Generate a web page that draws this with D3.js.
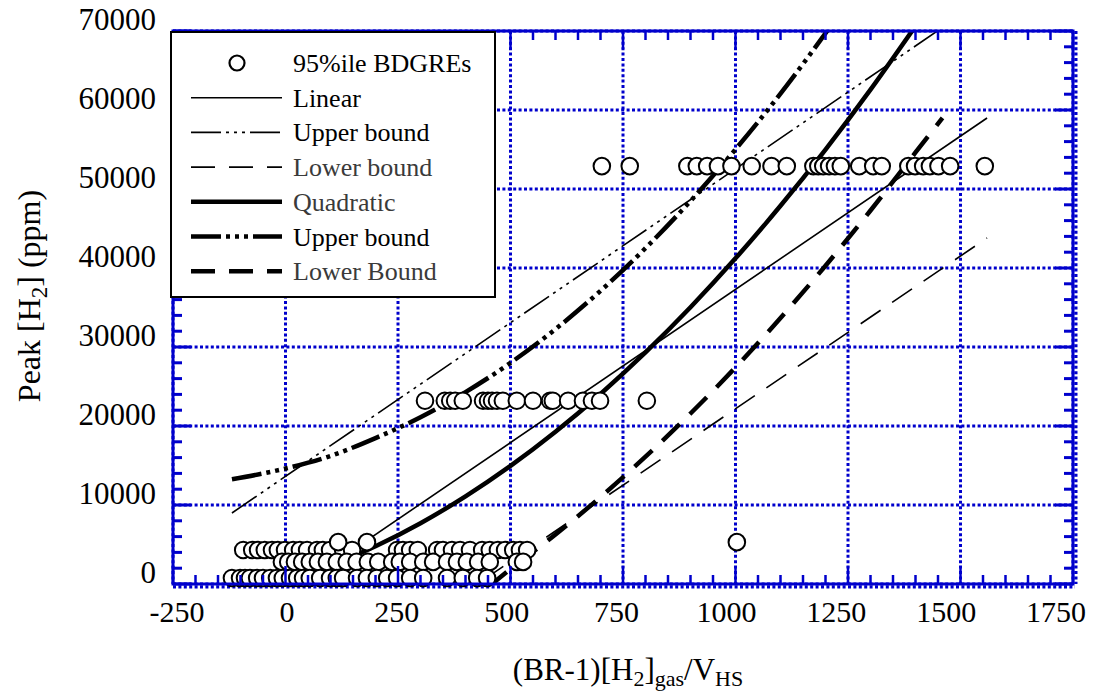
<!DOCTYPE html>
<html><head><meta charset="utf-8">
<script src="https://cdn.jsdelivr.net/npm/d3@7"></script>
<style>
body{margin:0;background:#fff}
svg text{font-family:"Liberation Serif","Times New Roman",serif;fill:#000}
</style></head><body>
<svg id="chart" width="1115" height="694"></svg>
<script>
// Axis ticks
const xTicks = [-250, 0, 250, 500, 750, 1000, 1250, 1500, 1750];
const yTicks = [0, 10000, 20000, 30000, 40000, 50000, 60000, 70000];

// 95%ile BDGREs, one array of x values per peak level
const rowLevels = [52900, 23200, 4300, 2800, 760, 5300];
const row52900 = [703, 765, 893, 914, 937, 961, 991, 1036, 1080, 1114, 1173, 1184, 1195, 1208, 1221, 1234, 1275, 1306, 1325, 1384, 1399, 1417, 1432, 1451, 1477, 1554];
const row23200 = [310, 354, 366, 377, 394, 439, 450, 459, 470, 483, 514, 550, 588, 594, 628, 661, 681, 699, 803];
const row4300 = [-94, -74, -61, -46, -30, -17, -1, 17, 32, 48, 70, 83, 99, 128, 148, 248, 261, 277, 294, 337, 350, 370, 388, 410, 437, 454, 472, 488, 506, 521, 537];
const row2800 = [-8, 6, 21, 37, 54, 72, 92, 114, 136, 158, 183, 206, 237, 254, 277, 306, 328, 359, 381, 403, 428, 454, 514, 528];
const row760 = [-119, -101, -90, -79, -63, -50, -34, -19, -6, 10, 26, 39, 54, 77, 99, 114, 128, 159, 181, 203, 226, 248, 277, 306, 359, 394, 426, 448];
const row5300 = [117, 181, 1003];

// Fitted curves as [x, peak] pairs
const linearFit = [[-119, -6117], [1559, 58989]];
const linearUpper = [[-119, 8990], [1559, 74300]];
const linearLower = [[-119, -21100], [1559, 43800]];
const quadFit = [[-119, -1444], [0, 320], [100, 2313], [200, 4772], [300, 7697], [400, 11088], [500, 14945], [600, 19268], [700, 24057], [800, 29312], [900, 35033], [1000, 41220], [1100, 47873], [1200, 54992], [1300, 62577], [1400, 70628]];
const quadUpper = [[-119, 13256], [0, 14620], [100, 16213], [200, 18472], [300, 21097], [400, 24288], [500, 27995], [600, 32268], [700, 37107], [800, 42512], [900, 48483], [1000, 55020], [1100, 62073], [1210, 70500]];
const quadLower = [[450, -400], [500, 1895], [600, 6268], [700, 11007], [800, 16112], [900, 21583], [1000, 27420], [1100, 33673], [1200, 40292], [1300, 47277], [1400, 54628], [1460, 59000]];

const legendLabels = ["95%ile BDGREs", "Linear", "Upper bound", "Lower bound", "Quadratic", "Upper bound", "Lower Bound"];

const blue = "#0000cc";
const svg = d3.select("#chart");

const x = d3.scaleLinear().domain([-250, 1750]).range([173, 1073]);
const y = d3.scaleLinear().domain([0, 70000]).range([584, 31]);
// tick labels sit on a slightly narrower span than the grid
const xLab = d3.scaleLinear().domain([-250, 1750]).range([177, 1056]);

const [x0, x1] = x.range();
const [y0, y1] = y.range();

svg.append("defs").append("clipPath").attr("id", "plotClip")
  .append("rect").attr("x", x0).attr("y", y1).attr("width", x1 - x0).attr("height", y0 - y1);

// dotted grid
const grid = svg.append("g").attr("stroke", blue).attr("stroke-width", 3).attr("stroke-dasharray", "3,2.4");
grid.selectAll(".gx").data(xTicks).join("line")
  .attr("x1", d => x(d)).attr("x2", d => x(d)).attr("y1", y1).attr("y2", y0);
grid.selectAll(".gy").data(yTicks).join("line")
  .attr("x1", x0).attr("x2", x1).attr("y1", d => y(d)).attr("y2", d => y(d));
// dotted edges just outside the frame
grid.append("line").attr("x1", x0).attr("x2", x1 + 2).attr("y1", y0 + 3).attr("y2", y0 + 3);
grid.append("line").attr("x1", x1 + 3).attr("x2", x1 + 3).attr("y1", y1).attr("y2", y0);

// curves
const line = d3.line().x(d => x(d[0])).y(d => y(d[1])).curve(d3.curveMonotoneX);
const curves = svg.append("g").attr("clip-path", "url(#plotClip)").attr("fill", "none").attr("stroke", "#000");
const styles = [
  {data: linearFit, w: 1.6, dash: null},
  {data: linearUpper, w: 1.6, dash: "30,5,3,5,3,5,3,5"},
  {data: linearLower, w: 1.6, dash: "24,14"},
  {data: quadFit, w: 4.5, dash: null},
  {data: quadUpper, w: 4.5, dash: "30,5,4,5,4,5,4,5"},
  {data: quadLower, w: 4.5, dash: "24,14"}
];
styles.forEach(s => {
  curves.append("path").attr("d", line(s.data)).attr("stroke-width", s.w)
    .attr("stroke-dasharray", s.dash).attr("stroke-linecap", "butt");
});

// data points
const rows = [row52900, row23200, row4300, row2800, row760, row5300];
const pts = svg.append("g");
rows.forEach((r, i) => {
  pts.selectAll(null).data(r).join("circle")
    .attr("cx", d => x(d)).attr("cy", y(rowLevels[i])).attr("r", 8.3)
    .attr("fill", "#fff").attr("stroke", "#000").attr("stroke-width", 2);
});

// frame and ticks
const frame = svg.append("g").attr("stroke", blue).attr("fill", "none");
frame.append("rect").attr("x", x0).attr("y", y1).attr("width", x1 - x0).attr("height", y0 - y1).attr("stroke-width", 3);
const xMinor = d3.range(-250, 1751, 50);
const yMinor = d3.range(0, 70001, 2000);
const tick = (d, major) => major ? 18 : 9;
frame.selectAll(".tb").data(xMinor).join("line")
  .attr("x1", d => x(d)).attr("x2", d => x(d)).attr("y1", y0).attr("y2", d => y0 - tick(d, d % 250 === 0)).attr("stroke-width", 2.5);
frame.selectAll(".tt").data(xMinor).join("line")
  .attr("x1", d => x(d)).attr("x2", d => x(d)).attr("y1", y1).attr("y2", d => y1 + tick(d, d % 250 === 0)).attr("stroke-width", 2.5);
frame.selectAll(".tl").data(yMinor).join("line")
  .attr("y1", d => y(d)).attr("y2", d => y(d)).attr("x1", x0).attr("x2", d => x0 + tick(d, d % 10000 === 0)).attr("stroke-width", 3);
frame.selectAll(".tr").data(yMinor).join("line")
  .attr("y1", d => y(d)).attr("y2", d => y(d)).attr("x1", x1).attr("x2", d => x1 - tick(d, d % 10000 === 0)).attr("stroke-width", 3);

// tick labels
svg.append("g").selectAll("text").data(xTicks).join("text")
  .attr("x", d => xLab(d)).attr("y", 622).attr("text-anchor", "middle").attr("font-size", 30)
  .text(d => d);
svg.append("g").selectAll("text").data(yTicks).join("text")
  .attr("x", 156).attr("y", d => y(d) - 1).attr("text-anchor", "end").attr("font-size", 31)
  .text(d => d);

// axis titles
const xt = svg.append("text").attr("x", 628).attr("y", 680).attr("text-anchor", "middle").attr("font-size", 31);
xt.append("tspan").text("(BR-1)[H");
xt.append("tspan").attr("font-size", 22).attr("dy", 6).text("2");
xt.append("tspan").attr("dy", -6).text("]");
xt.append("tspan").attr("font-size", 22).attr("dy", 6).text("gas");
xt.append("tspan").attr("dy", -6).text("/V");
xt.append("tspan").attr("font-size", 22).attr("dy", 6).text("HS");

const yt = svg.append("text").attr("transform", "translate(40,296) rotate(-90)").attr("text-anchor", "middle").attr("font-size", 32);
yt.append("tspan").text("Peak [H");
yt.append("tspan").attr("font-size", 23).attr("dy", 7).text("2");
yt.append("tspan").attr("dy", -7).text("] (ppm)");

// legend
const lg = svg.append("g");
lg.append("rect").attr("x", 171).attr("y", 32).attr("width", 324).attr("height", 265)
  .attr("fill", "#fff").attr("stroke", "#000").attr("stroke-width", 2);
const rowY = i => 63 + i * 34.7;
lg.append("circle").attr("cx", 237).attr("cy", rowY(0)).attr("r", 7.5).attr("fill", "#fff").attr("stroke", "#000").attr("stroke-width", 2.2);
styles.forEach((s, i) => {
  lg.append("line").attr("x1", 191).attr("x2", 282).attr("y1", rowY(i + 1)).attr("y2", rowY(i + 1))
    .attr("stroke", "#000").attr("stroke-width", s.w).attr("stroke-dasharray", s.dash);
});
const greyText = new Set([3, 4, 6]);
lg.selectAll("text").data(legendLabels).join("text")
  .attr("x", 293).attr("y", (d, i) => rowY(i) + 9).attr("font-size", 26)
  .style("fill", (d, i) => greyText.has(i) ? "#3a3a3a" : "#000")
  .text(d => d);
</script>
</body></html>
